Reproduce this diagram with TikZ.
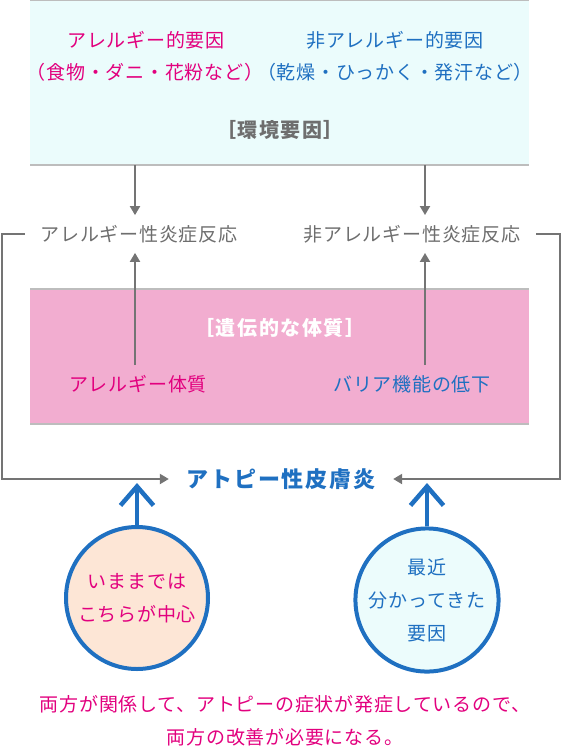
\documentclass[tikz,border=0pt]{standalone}
\usepackage{fontspec}
\setmainfont{Noto Sans CJK JP}
\usetikzlibrary{arrows.meta}
\definecolor{kgray}{HTML}{6E6E6E}
\definecolor{kline}{HTML}{747474}
\definecolor{kframe}{HTML}{BDBDBD}
\definecolor{kblue}{HTML}{1F70C1}
\definecolor{kpink}{HTML}{E2007E}
\definecolor{envbg}{HTML}{EBFCFC}
\definecolor{genebg}{HTML}{F2ADD0}
\definecolor{peach}{HTML}{FDE6D6}
\definecolor{icecyan}{HTML}{ECFCFC}
\begin{document}
\begin{tikzpicture}[x=1pt,y=-1pt,
  txt/.style={inner sep=0pt,font=\fontsize{19}{33}\selectfont\addfontfeatures{LetterSpace=4}},
  head/.style={inner sep=0pt,font=\fontsize{20}{20}\selectfont\bfseries\addfontfeatures{LetterSpace=8}},
  react/.style={txt,text=kgray,outer xsep=16pt,outer ysep=10pt},
  garrow/.style={kline,line width=2pt,-{Triangle[width=10pt,length=9pt]}},
  barrow/.style={kblue,line width=4.5pt,-{Straight Barb[width=33pt,length=19pt,line width=4.5pt]}},
  bubble/.style={circle,draw=kblue,line width=4pt,minimum size=142pt,inner sep=0pt,align=center,txt}]
\useasboundingbox (0,0) rectangle (562,750);
% environment
\fill[envbg] (30,0) rectangle (529,165);
\draw[kframe,line width=1.2pt] (30,0) -- (529,0) (30,165) -- (529,165);
\node[txt,text=kpink] (alf) at (146,40) {アレルギー的要因};
\node[txt,text=kpink] (alfx) at (145,72) {（食物・ダニ・花粉など）};
\node[txt,text=kblue] (nalf) at (395,40) {非アレルギー的要因};
\node[txt,text=kblue] (nalfx) at (395,72) {（乾燥・ひっかく・発汗など）};
\node[head,text=kgray] (env) at (280,130) {［環境要因］};

% heredity
\fill[genebg] (30,289) rectangle (529,424);
\draw[kframe,line width=1.2pt] (30,289) -- (529,289) (30,424) -- (529,424);
\node[head,text=white] (gene) at (280,328) {［遺伝的な体質］};
\node[txt,text=kpink,outer ysep=10pt] (altai) at (138,384) {アレルギー体質};
\node[txt,text=kblue,outer ysep=10pt] (barrier) at (412,384) {バリア機能の低下};

% reactions
\node[react] (allerg) at (139,234) {アレルギー性炎症反応};
\node[react] (nallerg) at (412,234) {非アレルギー性炎症反応};
\coordinate (e1) at (135,165);
\coordinate (e2) at (425,165);
\draw[garrow] (e1) -- (e1 |- allerg.north);
\draw[garrow] (e2) -- (e2 |- nallerg.north);
\draw[garrow] (e1 |- altai.north) -- (e1 |- allerg.south);
\draw[garrow] (e2 |- barrier.north) -- (e2 |- nallerg.south);

% result
\node[head,text=kblue,font=\fontsize{22}{22}\selectfont\bfseries\addfontfeatures{LetterSpace=8},outer xsep=18pt] (atopy) at (281,479) {アトピー性皮膚炎};
\draw[garrow] (allerg.west) -| (2,479) -- (atopy.west);
\draw[garrow] (nallerg.east) -| (560,479) -- (atopy.east);

\node[bubble,fill=peach,text=kpink] (imamade) at (137,598) {いままでは\\こちらが中心};
\node[bubble,fill=icecyan,text=kblue] (saikin) at (427,600) {最近\\分かってきた\\要因};
\coordinate (tl) at (137,483);
\coordinate (tr) at (427,483);
\draw[barrow] (imamade.north) -- (tl);
\draw[barrow] (saikin.north) -- (tr);

\node[txt,text=kpink,align=center] (note) at (285,721) {両方が関係して、アトピーの症状が発症しているので、\\両方の改善が必要になる。};
\end{tikzpicture}
\end{document}
